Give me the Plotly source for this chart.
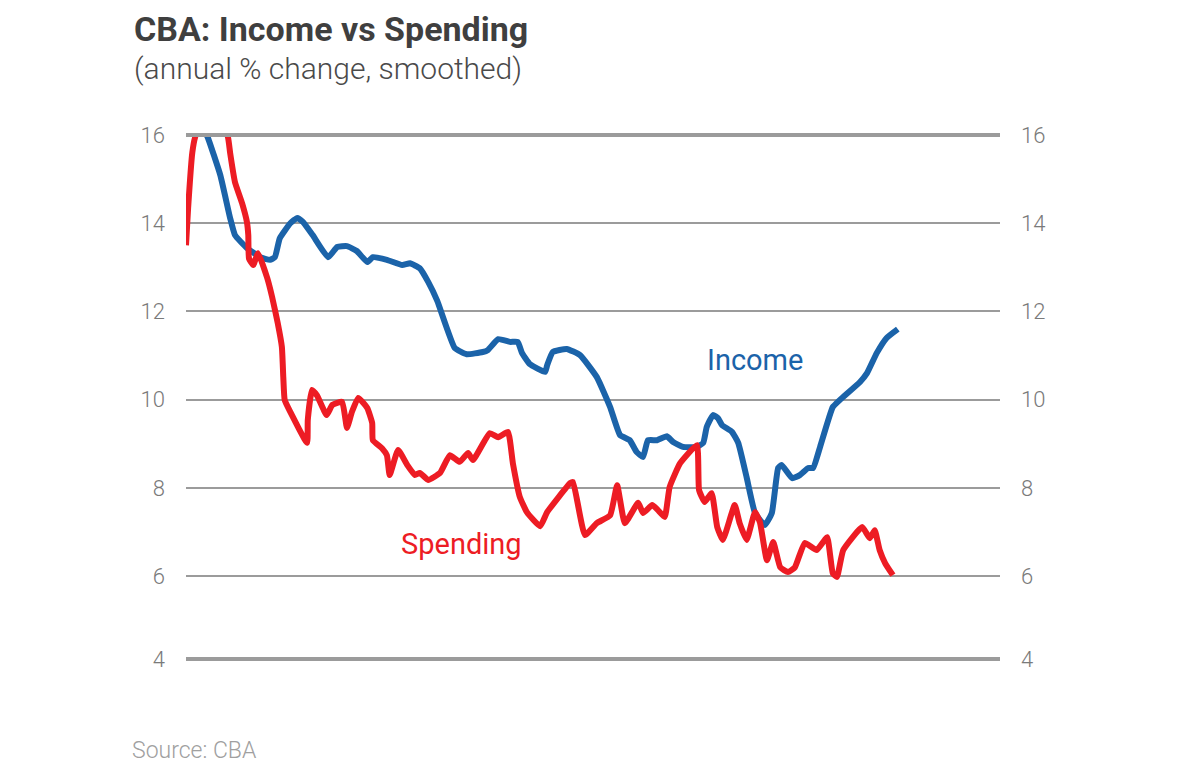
import plotly.graph_objects as go

# time index (months from start)
income_t = [2.6, 3.1, 4.9, 6.3, 7.0, 8.7, 10.6, 12.0, 12.7, 13.4, 14.9, 15.9, 16.7, 18.1, 20.3,
            21.6, 23.0, 24.4, 25.9, 26.7, 28.7, 30.9, 32.0, 33.4, 34.6, 35.9, 38.4, 40.1, 42.4,
            43.1, 44.6, 46.3, 47.4, 48.0, 49.1, 51.3, 51.6, 52.4, 54.4, 56.3, 58.7, 60.6, 62.0,
            63.4, 64.4, 65.3, 66.0, 67.3, 68.7, 69.6, 71.0, 73.0, 73.9, 74.4, 75.3, 76.0, 76.6,
            78.0, 78.9, 80.1, 81.3, 82.7, 83.7, 84.6, 85.1, 86.6, 87.7, 88.9, 89.6, 90.6, 92.4,
            93.4, 96.3, 97.3, 98.7, 100.1, 101.7]
income = [16.1, 15.95, 15.09, 14.12, 13.73, 13.44, 13.23, 13.17, 13.23, 13.66, 14.0, 14.12, 14.03,
          13.73, 13.23, 13.46, 13.48, 13.37, 13.12, 13.23, 13.17, 13.05, 13.09, 12.98, 12.67, 12.24,
          11.17, 11.03, 11.08, 11.12, 11.37, 11.31, 11.31, 11.06, 10.81, 10.63, 10.78, 11.08, 11.15,
          11.01, 10.51, 9.83, 9.2, 9.08, 8.81, 8.70, 9.08, 9.08, 9.17, 9.04, 8.93, 8.93, 9.02, 9.38,
          9.65, 9.58, 9.42, 9.27, 9.02, 8.24, 7.43, 7.16, 7.43, 8.45, 8.52, 8.22, 8.29, 8.45, 8.45,
          8.93, 9.83, 9.99, 10.4, 10.6, 11.06, 11.4, 11.6]

spending_t = [0.0, 0.3, 0.9, 1.3, 3.6, 6.0, 6.3, 7.0, 8.0, 8.7, 8.9, 9.0, 9.6, 10.3, 11.6, 12.3,
              13.1, 13.7, 13.9, 14.1, 14.9, 17.3, 17.4, 18.0, 18.7, 20.1, 20.9, 22.3, 23.0, 23.7,
              24.6, 25.9, 26.6, 26.7, 28.0, 28.7, 29.1, 30.3, 31.6, 32.7, 33.4, 34.6, 36.3, 37.7,
              39.1, 40.3, 41.0, 43.4, 44.6, 46.0, 46.7, 47.7, 48.7, 50.6, 51.6, 54.9, 55.3, 57.0,
              58.7, 60.6, 61.6, 62.7, 64.6, 65.3, 66.6, 67.4, 68.4, 69.1, 70.6, 73.0, 73.3, 74.1,
              75.1, 75.9, 76.7, 78.4, 79.1, 80.1, 81.3, 82.0, 83.0, 83.9, 84.9, 86.0, 87.0, 88.4,
              90.1, 91.6, 92.4, 93.0, 93.9, 96.6, 97.7, 98.4, 99.1, 99.9, 101.0]
spending = [13.5, 14.34, 15.6, 15.95, 16.9, 15.95, 15.6, 14.93, 14.46, 14.03, 13.73, 13.2, 13.05,
            13.32, 12.76, 12.33, 11.74, 11.19, 10.51, 9.99, 9.72, 9.02, 9.54, 10.22, 10.1, 9.65,
            9.88, 9.95, 9.36, 9.72, 10.04, 9.81, 9.47, 9.08, 8.9, 8.74, 8.29, 8.86, 8.52, 8.29,
            8.34, 8.18, 8.34, 8.74, 8.59, 8.79, 8.63, 9.24, 9.15, 9.27, 8.56, 7.79, 7.45, 7.13,
            7.45, 8.11, 8.13, 6.93, 7.2, 7.38, 8.06, 7.2, 7.66, 7.43, 7.61, 7.5, 7.34, 8.02, 8.56,
            8.97, 7.95, 7.68, 7.88, 7.11, 6.82, 7.61, 7.2, 6.82, 7.45, 7.22, 6.36, 6.77, 6.2, 6.09,
            6.2, 6.75, 6.59, 6.88, 6.07, 5.98, 6.59, 7.11, 6.86, 7.04, 6.59, 6.29, 6.02]

tick_vals = [4.12, 6, 8, 10, 12, 14, 16]
tick_text = ["4", "6", "8", "10", "12", "14", "16"]

BLUE = "#1b63a9"
RED = "#ed1c24"
GRID = "#9b9b9b"
FONT = "Roboto"

fig = go.Figure()
fig.add_trace(go.Scatter(x=income_t, y=income, mode="lines", name="Income",
                         line=dict(color=BLUE, width=6, shape="spline", smoothing=0.4),
                         hoverinfo="skip"))
fig.add_trace(go.Scatter(x=spending_t, y=spending, mode="lines", name="Spending",
                         line=dict(color=RED, width=6, shape="spline", smoothing=0.4),
                         yaxis="y2", hoverinfo="skip"))

yrange = [4.12, 16]
tickfont = dict(size=22, color="#7a7a7a", family=FONT, weight=300)
fig.update_layout(
    width=1185, height=757,
    margin=dict(l=178, r=193, t=127, b=106),
    paper_bgcolor="white", plot_bgcolor="white",
    showlegend=False,
    font=dict(family=FONT, color="#7a7a7a"),
    xaxis=dict(range=[0, 116.3], visible=False, showgrid=False, zeroline=False),
    yaxis=dict(range=yrange, tickvals=tick_vals, ticktext=tick_text, showgrid=True,
               gridcolor=GRID, gridwidth=2, zeroline=False, showline=False, ticks="",
               ticklabelstandoff=20, tickfont=tickfont),
    yaxis2=dict(range=yrange, tickvals=tick_vals, ticktext=tick_text, overlaying="y", side="right",
                showgrid=False, zeroline=False, showline=False, ticks="",
                ticklabelstandoff=20, tickfont=tickfont),
)

for yv in [0, 1]:
    fig.add_shape(type="line", xref="paper", yref="paper", x0=0, x1=1, y0=yv, y1=yv,
                  line=dict(color=GRID, width=4), layer="above")

fig.add_annotation(text="<b>CBA: Income vs Spending</b>", xref="paper", yref="paper",
                   x=-0.065, y=1.1622, xanchor="left", yanchor="bottom", showarrow=False,
                   borderpad=0, font=dict(size=34, color="#3f3f3f", family=FONT))
fig.add_annotation(text="(annual % change, smoothed)", xref="paper", yref="paper",
                   x=-0.065, y=1.1622, xanchor="left", yanchor="top", showarrow=False,
                   borderpad=0, font=dict(size=30, color="#4a4a4a", family=FONT, weight=300))
fig.add_annotation(text="Source: CBA", xref="paper", yref="paper",
                   x=-0.0683, y=-0.175, xanchor="left", yanchor="middle", showarrow=False,
                   font=dict(size=23, color="#a0a0a0", family=FONT, weight=300))
fig.add_annotation(text="Income", x=81.3, y=10.9, xref="x", yref="y", showarrow=False,
                   font=dict(size=29, color=BLUE, family=FONT))
fig.add_annotation(text="Spending", x=39.4, y=6.73, xref="x", yref="y", showarrow=False,
                   font=dict(size=29, color=RED, family=FONT))

fig.write_html("out.html")
